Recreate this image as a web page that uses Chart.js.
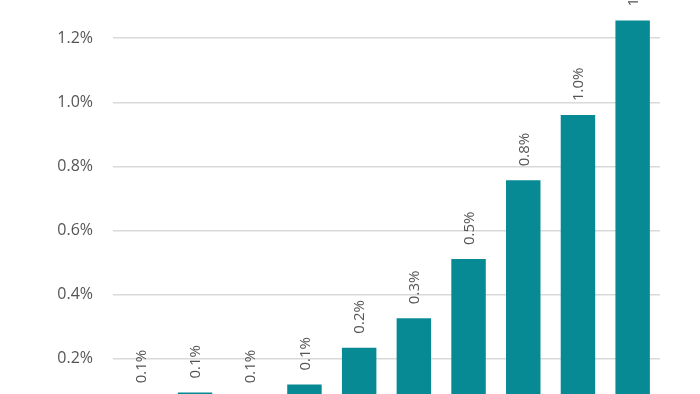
<!DOCTYPE html>
<html>
<head>
<meta charset="utf-8">
<script src="https://cdn.jsdelivr.net/npm/chart.js@4"></script>
<style>
    html, body { margin: 0; padding: 0; background: #fff; overflow: hidden; }
    #wrap { position: absolute; left: 0; top: -60px; width: 700px; height: 560px; }
</style>
</head>
<body>
<div id="wrap"><canvas id="grafico"></canvas></div>
<script>
// categories sit below the visible area in the reference
const categorias = ['1', '2', '3', '4', '5', '6', '7', '8', '9', '10'];
const valores = [0.08, 0.095, 0.08, 0.12, 0.235, 0.327, 0.511, 0.757, 0.96, 1.255];
const ticksY = [0, 0.2, 0.4, 0.6, 0.8, 1.0, 1.2, 1.4];

const rotulos = {
    id: 'rotulos',
    afterDatasetsDraw(chart) {
        const ctx = chart.ctx;
        const meta = chart.getDatasetMeta(0);
        ctx.save();
        ctx.fillStyle = '#555555';
        ctx.font = '15px "Open Sans"';
        ctx.textAlign = 'left';
        ctx.textBaseline = 'middle';
        meta.data.forEach((bar, i) => {
            ctx.save();
            ctx.translate(bar.x + 1, bar.y - 14);
            ctx.rotate(-Math.PI / 2);
            ctx.fillText(valores[i].toFixed(1) + '%', 0, 0);
            ctx.restore();
        });
        ctx.restore();
    }
};

document.addEventListener('DOMContentLoaded', () => {
    const ctx = document.getElementById('grafico').getContext('2d');
    new Chart(ctx, {
        type: 'bar',
        data: {
            labels: categorias,
            datasets: [{
                data: valores,
                backgroundColor: '#078a94',
                categoryPercentage: 1,
                barPercentage: 0.63
            }]
        },
        options: {
            responsive: true,
            maintainAspectRatio: false,
            animation: false,
            layout: { padding: { top: 34, right: 40, bottom: 77, left: 0 } },
            plugins: {
                legend: { display: false },
                tooltip: { enabled: false }
            },
            scales: {
                x: {
                    display: false
                },
                y: {
                    min: 0,
                    max: 1.4,
                    afterBuildTicks: (scale) => {
                        scale.ticks = ticksY.map(v => ({ value: v }));
                    },
                    afterFit: (scale) => { scale.width = 113; },
                    border: { display: false },
                    grid: { color: '#d9d9d9', lineWidth: 1.5, drawTicks: false },
                    ticks: {
                        padding: 20,
                        color: '#555555',
                        font: { family: 'Open Sans', size: 16 },
                        callback: (v) => v.toFixed(1) + '%'
                    }
                }
            }
        },
        plugins: [rotulos]
    });
});
</script>
</body>
</html>
